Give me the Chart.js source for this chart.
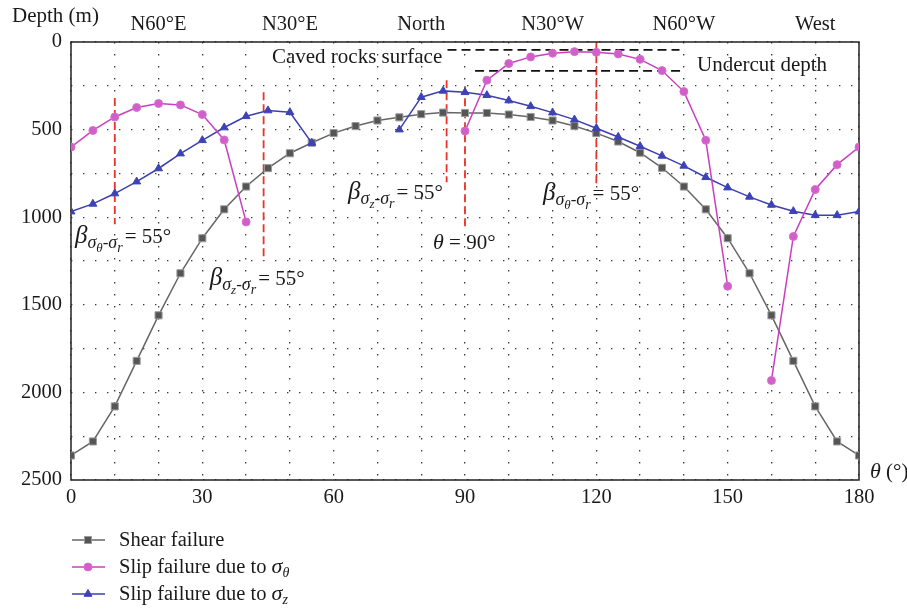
<!DOCTYPE html>
<html><head><meta charset="utf-8">
<script src="https://cdn.jsdelivr.net/npm/chart.js@4"></script>
<style>html,body{margin:0;padding:0;background:#fff}#wrap{width:907px;height:612px;position:relative}</style>
</head><body><div id="wrap"><canvas id="c" width="907" height="612"></canvas></div>
<script>
// ---------- data ----------
const theta = [0,5,10,15,20,25,30,35,40,45,50,55,60,65,70,75,80,85,90,95,100,105,110,115,120,125,130,135,140,145,150,155,160,165,170,175,180];
const shearDepth = [2360,2280,2080,1820,1560,1320,1120,955,825,720,635,575,520,480,448,430,412,403,405,405,414,428,448,480,520,568,632,718,825,955,1120,1320,1560,1820,2080,2280,2360];
const slipThetaDepth = [600,505,428,374,351,359,414,559,1027,null,null,null,null,null,null,null,null,null,508,218,123,85,64,55,59,68,99,163,283,561,1394,null,1932,1110,842,700,600];
const slipZDepth = [968,924,865,797,722,637,561,488,424,391,401,576,null,null,null,500,315,279,287,304,334,367,403,443,492,542,595,650,707,772,831,884,930,966,989,989,968];
const seriesNames = ['Shear failure','Slip failure due to ','Slip failure due to '];
const seriesSymbols = ['', 'θ', 'z'];
const xTickLabels = [0,30,60,90,120,150,180];
const yTickLabels = [0,500,1000,1500,2000,2500];
const compassPos = [20,50,80,110,140,170];
const compassLabels = ['N60°E','N30°E','North','N30°W','N60°W','West'];
// red dashed marker lines: theta, top depth, bottom depth
const redLineTheta = [10,44,85.8,90,120];
const redLineTop = [320,287,218,253,7];
const redLineBottom = [1040,1250,800,1058,806];
// black dashed reference lines
const cavedRange = [86,139]; const cavedDepth = 45;
const undercutRange = [92.3,140]; const undercutDepth = 165;

const FONT = "'Liberation Serif','DejaVu Serif',serif";
const C_SHEAR = '#666666', C_PINK = '#c93fbf', C_BLUE = '#3b3fb0', C_RED = '#e8342b';

function pts(vals){ return theta.map((t,i)=>({x:t,y:vals[i]})); }

const datasets = [
  {label:'Shear failure', data:pts(shearDepth), borderColor:C_SHEAR, borderWidth:1.5,
   pointStyle:'rect', pointRadius:5, pointBackgroundColor:'#555', pointBorderColor:'#9a9a9a', pointBorderWidth:1, order:3},
  {label:'Slip θ', data:pts(slipThetaDepth), borderColor:C_PINK, borderWidth:1.5, spanGaps:false,
   pointStyle:'circle', pointRadius:4, pointBackgroundColor:'#d15fc8', pointBorderColor:'#d86fd0', pointBorderWidth:1, order:1},
  {label:'Slip z', data:pts(slipZDepth), borderColor:C_BLUE, borderWidth:1.5, spanGaps:false,
   pointStyle:'triangle', pointRadius:4.6, pointBackgroundColor:'#3d43b5', pointBorderColor:'#3d43b5', pointBorderWidth:1, order:2},
];
redLineTheta.forEach((t,i)=>datasets.push({label:'red'+i, data:[{x:t,y:redLineTop[i]},{x:t,y:redLineBottom[i]}],
  borderColor:C_RED, borderWidth:1.8, borderDash:[8,4], pointRadius:0, order:5}));
datasets.push({label:'caved', data:[{x:cavedRange[0],y:cavedDepth},{x:cavedRange[1],y:cavedDepth}],
  borderColor:'#111', borderWidth:1.6, borderDash:[9,5], pointRadius:0, order:4});
datasets.push({label:'undercut', data:[{x:undercutRange[0],y:undercutDepth},{x:undercutRange[1],y:undercutDepth}],
  borderColor:'#111', borderWidth:1.6, borderDash:[9,5], pointRadius:0, order:4});

// rich text helper: parts [{t, size, italic, dy}]
function drawRich(ctx, x, y, parts){
  let cx = x;
  parts.forEach(p=>{
    ctx.font = (p.italic?'italic ':'') + p.size + 'px ' + FONT;
    ctx.fillText(p.t, cx, y + (p.dy||0));
    cx += ctx.measureText(p.t).width + (p.gap||0);
  });
  return cx;
}
function betaParts(sym){
  return [
    {t:'β', size:25, italic:true},
    {t:'σ', size:18, italic:true, dy:5},
    {t:sym, size:13, italic:true, dy:9},
    {t:'-', size:17, dy:5},
    {t:'σ', size:18, italic:true, dy:5},
    {t:'r', size:14, italic:true, dy:9, gap:2},
    {t:'= 55°', size:21},
  ];
}
const annotations = [
  {x:0.9, y:1148, parts:betaParts('θ')},
  {x:31.7, y:1388, parts:betaParts('z')},
  {x:63.3, y:895, parts:betaParts('z')},
  {x:82.7, y:1183, parts:[{t:'θ', size:22, italic:true},{t:' = 90°', size:21}]},
  {x:107.8, y:900, parts:betaParts('θ')},
];
const labels = [
  {x:45.9, y:118, parts:[{t:'Caved rocks surface', size:21}]},
  {x:143, y:167, parts:[{t:'Undercut depth', size:21}]},
];

const overlay = {
  id:'overlay',
  beforeDatasetsDraw(chart){
    const {ctx, chartArea:a} = chart;
    ctx.save(); ctx.strokeStyle='#222'; ctx.lineWidth=1.5;
    ctx.strokeRect(a.left, a.top, a.right-a.left, a.bottom-a.top);
    ctx.restore();
  },
  afterDraw(chart){
    const {ctx, chartArea:a, scales} = chart;
    const xs = scales.x, ys = scales.y;
    ctx.save();
    ctx.fillStyle = '#1a1a1a'; ctx.textBaseline = 'alphabetic'; ctx.textAlign='left';
    annotations.concat(labels).forEach(an=>{
      drawRich(ctx, xs.getPixelForValue(an.x), ys.getPixelForValue(an.y), an.parts);
    });
    // axis titles
    drawRich(ctx, a.left-59, a.top-20, [{t:'Depth (m)', size:21}]);
    drawRich(ctx, a.right+11, a.bottom-2, [{t:'θ', size:22, italic:true},{t:' (°)', size:21}]);
    // legend
    const rows = [540,567,594];
    const cols = [C_SHEAR, C_PINK, C_BLUE];
    rows.forEach((ry,i)=>{
      const ds = chart.data.datasets[i];
      ctx.save();
      ctx.strokeStyle = cols[i]; ctx.lineWidth = 1.6; ctx.setLineDash([]);
      ctx.beginPath(); ctx.moveTo(72, ry); ctx.lineTo(105, ry); ctx.stroke();
      ctx.fillStyle = ds.pointBackgroundColor; ctx.strokeStyle = ds.pointBorderColor; ctx.lineWidth=1;
      Chart.helpers.drawPoint(ctx, {pointStyle:ds.pointStyle, radius:ds.pointRadius, borderWidth:1}, 88, ry);
      ctx.restore();
      ctx.fillStyle = '#1a1a1a';
      const parts = [{t:seriesNames[i], size:20.5}];
      if (seriesSymbols[i]) { parts.push({t:'σ', size:22, italic:true}); parts.push({t:seriesSymbols[i], size:14, italic:true, dy:4}); }
      drawRich(ctx, 119, ry+6, parts);
    });
    ctx.restore();
  }
};

Chart.defaults.font.family = FONT;
Chart.defaults.font.size = 20.5;
Chart.defaults.color = '#1a1a1a';

new Chart(document.getElementById('c'), {
  type:'line',
  data:{datasets},
  options:{
    responsive:false, animation:false,
    layout:{padding:{left:0, right:48, top:0, bottom:0}},
    elements:{line:{tension:0}},
    plugins:{legend:{display:false}, tooltip:{enabled:false}},
    scales:{
      x:{type:'linear', position:'bottom', min:0, max:180,
        afterBuildTicks(s){ const t=[]; for(let v=0; v<=180; v+=10) t.push({value:v}); s.ticks=t; },
        ticks:{autoSkip:false, maxRotation:0, padding:5,
          callback:(v)=> xTickLabels.includes(v) ? String(v) : ''},
        grid:{color:'#3a3a3a', lineWidth:1.3, drawTicks:false},
        border:{display:false, dash:[1.4,10.6]},
        afterFit(s){ s.height = 132; }
      },
      x2:{type:'linear', position:'top', min:0, max:180,
        afterBuildTicks(s){ s.ticks = compassPos.map(v=>({value:v})); },
        ticks:{autoSkip:false, maxRotation:0, padding:5,
          callback:(v)=> compassLabels[compassPos.indexOf(v)] },
        grid:{display:false, drawTicks:false}, border:{display:false},
        afterFit(s){ s.height = 42; }
      },
      y:{type:'linear', position:'left', min:0, max:2500, reverse:true,
        afterBuildTicks(s){ const t=[]; for(let v=0; v<=2500; v+=250) t.push({value:v}); s.ticks=t; },
        ticks:{autoSkip:false, padding:9,
          callback:(v)=> yTickLabels.includes(v) ? String(v) : ''},
        grid:{color:'#3a3a3a', lineWidth:1.3, drawTicks:false},
        border:{display:false, dash:[1.4,10.6]},
        afterFit(s){ s.width = 71; }
      }
    }
  },
  plugins:[overlay]
});
</script></body></html>
